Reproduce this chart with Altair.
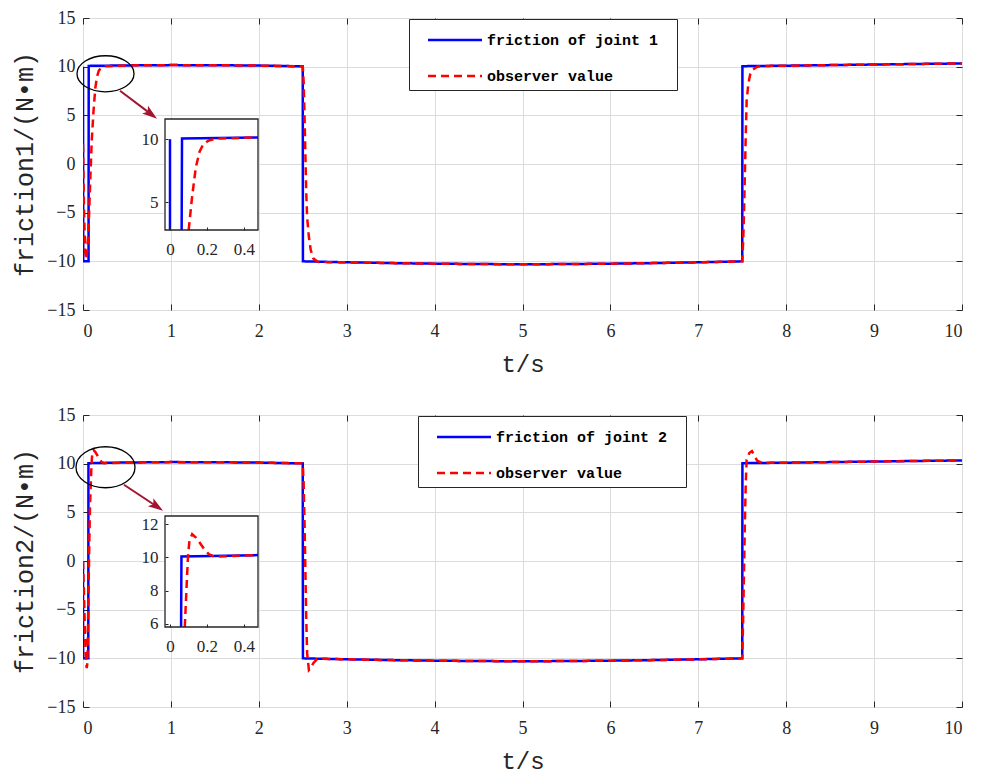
import altair as alt
import pandas as pd

OBS = "observer value"
SERIES_1 = "friction of joint 1"
SERIES_2 = "friction of joint 2"

X_TICKS = [0, 1, 2, 3, 4, 5, 6, 7, 8, 9, 10]
Y_TICKS = [-15, -10, -5, 0, 5, 10, 15]
INSET_X_TICKS = [0, 0.2, 0.4]
INSET1_Y_TICKS = [5, 10]
INSET2_Y_TICKS = [6, 8, 10, 12]

# ---------------- panel 1 ----------------
B1_T = [0.0, 0.003, 0.063, 0.065, 0.5, 1.0, 1.5, 2.0, 2.5, 2.502, 3.0, 3.5, 4.0, 4.5, 5.0,
        5.5, 6.0, 6.5, 7.0, 7.5, 7.502, 8.0, 8.5, 9.0, 9.5, 10.0]
B1_V = [10.0, -10.0, -10.0, 10.08, 10.13, 10.16, 10.15, 10.11, 10.03, -10.0, -10.1, -10.18, -10.24, -10.28, -10.3,
        -10.28, -10.24, -10.18, -10.1, -10.0, 10.05, 10.1, 10.16, 10.22, 10.28, 10.33]
R1_T = [0.0, 0.012, 0.025, 0.04, 0.055, 0.07, 0.085, 0.1, 0.12, 0.14, 0.16, 0.18, 0.21, 0.25, 0.5,
        1.0, 1.5, 2.0, 2.5, 2.51, 2.52, 2.53, 2.54, 2.55, 2.57, 2.59, 2.62, 2.67, 2.75, 3.0, 3.5,
        4.0, 4.5, 5.0, 5.5, 6.0, 6.5, 7.0, 7.5, 7.51, 7.52, 7.53, 7.54, 7.55, 7.57, 7.59, 7.62,
        7.67, 7.75, 8.0, 8.5, 9.0, 9.5, 10.0]
R1_V = [2.0, -5.0, -9.0, -9.8, -8.0, -5.0, -1.0, 2.5, 5.5, 7.8, 9.0, 9.6, 9.9, 10.05, 10.13,
        10.16, 10.15, 10.11, 10.03, 8.5, 5.0, 1.0, -3.0, -5.5, -7.5, -8.8, -9.7, -10.05, -10.08, -10.1, -10.18,
        -10.24, -10.28, -10.3, -10.28, -10.24, -10.18, -10.1, -10.0, -8.0, -5.0, -1.0, 3.0, 6.5, 8.3, 9.2, 9.7,
        10.0, 10.08, 10.1, 10.16, 10.22, 10.28, 10.33]
# inset 1 (values read inside the zoom window)
IB1_T = [0.0, 0.0, 0.063, 0.065, 0.476]
IB1_V = [2.8, 10.0, 2.8, 10.05, 10.14]
IB1_SEG = [0, 0, 1, 1, 1]
IR1_T = [0.101, 0.12, 0.14, 0.16, 0.18, 0.21, 0.25, 0.476]
IR1_V = [2.8, 5.5, 7.8, 9.0, 9.6, 9.9, 10.05, 10.14]
INSET1_Y_DOMAIN = [2.8, 11.6]

# ---------------- panel 2 ----------------
B2_T = [0.0, 0.002, 0.06, 0.062, 0.5, 1.0, 1.5, 2.0, 2.5, 2.502, 3.0, 3.5, 4.0, 4.5, 5.0,
        5.5, 6.0, 6.5, 7.0, 7.5, 7.502, 8.0, 8.5, 9.0, 9.5, 10.0]
B2_V = [0.0, -10.0, -10.0, 10.05, 10.12, 10.16, 10.15, 10.11, 10.03, -10.0, -10.1, -10.18, -10.24, -10.28, -10.3,
        -10.28, -10.24, -10.18, -10.1, -10.0, 10.05, 10.1, 10.16, 10.22, 10.28, 10.33]
R2_T = [0.0, 0.01, 0.02, 0.03, 0.042, 0.05, 0.058, 0.065, 0.072, 0.08, 0.09, 0.097, 0.105, 0.12, 0.14,
        0.16, 0.185, 0.21, 0.24, 0.5, 1.0, 1.5, 2.0, 2.5, 2.51, 2.52, 2.53, 2.54, 2.55, 2.57, 2.59,
        2.62, 2.66, 2.72, 3.0, 3.5, 4.0, 4.5, 5.0, 5.5, 6.0, 6.5, 7.0, 7.5, 7.51, 7.52, 7.53, 7.54,
        7.55, 7.58, 7.61, 7.64, 7.67, 7.72, 8.0, 8.5, 9.0, 9.5, 10.0]
R2_V = [0.0, -3.0, -6.5, -9.5, -11.0, -10.5, -6.0, -2.0, 2.0, 5.8, 8.3, 10.0, 11.0, 11.4, 11.2,
        10.9, 10.5, 10.2, 10.05, 10.12, 10.16, 10.15, 10.11, 10.03, 8.0, 4.0, -1.0, -6.0, -9.5, -11.2, -11.0,
        -10.5, -10.1, -10.05, -10.1, -10.18, -10.24, -10.28, -10.3, -10.28, -10.24, -10.18, -10.1, -10.0, -6.0, -1.0, 4.0, 8.0,
        10.4, 11.1, 11.3, 10.8, 10.3, 10.1, 10.1, 10.16, 10.22, 10.28, 10.33]
IB2_T = [0.06, 0.062, 0.476]
IB2_V = [5.8, 10.05, 10.14]
IB2_SEG = [0, 0, 0]
IR2_T = [0.08, 0.09, 0.097, 0.105, 0.12, 0.14, 0.16, 0.185, 0.21, 0.24, 0.476]
IR2_V = [5.8, 8.3, 10.0, 11.0, 11.4, 11.2, 10.9, 10.5, 10.2, 10.05, 10.14]
INSET2_Y_DOMAIN = [5.8, 12.5]

INSET_X_DOMAIN = [-0.027, 0.476]

# annotation anchors (data units of the main axes)
ELL1 = {"t": [0.256], "v": [9.27]}
ELL2 = {"t": [0.256], "v": [9.63]}
ARR1 = {"t0": [0.421], "v0": [7.53], "t1": [0.774], "v1": [5.12]}
ARR2 = {"t0": [0.466], "v0": [7.83], "t1": [0.84], "v1": [5.60]}

DARK = "#262626"
SERIF = "Liberation Serif"
MONO = "Liberation Mono"
W, H = 879, 292
ARROW_PATH = "M1,0 L-1,-0.65 L-0.55,0 L-1,0.65 Z"
LEGEND_SYMBOL = "M-2,0H2"


def panel(bt, bv, rt, rv, ibt, ibv, ibseg, irt, irv, iy_dom, iy_ticks, ylab, blue_name,
          ell, ell_ratio, ell_w, arr, arr_angle, legx):
    df = pd.DataFrame({
        "t": bt + rt,
        "v": bv + rv,
        "series": [blue_name] * len(bt) + [OBS] * len(rt),
        "i": list(range(len(bt))) + list(range(len(rt))),
    })
    xs = alt.Scale(domain=[0, 10], nice=False, zero=False)
    ys = alt.Scale(domain=[-15, 15], nice=False, zero=False)
    leg = alt.Legend(orient="none", legendX=legx, legendY=1, title="\u00a0", titleOrient="right",
                     titleFont=MONO, titleFontSize=15, titlePadding=13,
                     symbolType=LEGEND_SYMBOL, symbolSize=729, symbolStrokeWidth=2.5,
                     labelFont=MONO, labelFontWeight="bold", labelFontSize=15,
                     labelColor="black", strokeColor=DARK, fillColor="white",
                     padding=6, rowPadding=13, labelOffset=17, cornerRadius=0,
                     symbolOffset=25, labelLimit=0)
    x_axis = alt.Axis(values=X_TICKS, title="t/s", grid=True, gridColor="#dcdcdc",
                      domain=False, tickColor=DARK, tickSize={"expr": "-6"},
                      labelPadding=18, labelFont=SERIF, labelFontSize=18, labelColor=DARK,
                      titleFont=MONO, titleFontSize=24, titleFontWeight="normal",
                      titleColor=DARK, titlePadding=12, format="d")
    y_axis = alt.Axis(values=Y_TICKS, title=ylab, grid=True, gridColor="#dcdcdc",
                      domain=False, tickColor=DARK, tickSize={"expr": "-6"},
                      labelPadding=14, labelFont=SERIF, labelFontSize=18, labelColor=DARK,
                      titleFont=MONO, titleFontSize=25, titleFontWeight="normal",
                      titleColor=DARK, titlePadding=9, format="d")
    x_top = alt.Axis(orient="top", values=X_TICKS, labels=False, title=None, grid=False,
                     domain=False, tickColor=DARK, tickSize={"expr": "-6"})
    y_right = alt.Axis(orient="right", values=Y_TICKS, labels=False, title=None, grid=False,
                       domain=False, tickColor=DARK, tickSize={"expr": "-6"})

    def X(f, ax=None):
        return alt.X(f, scale=xs, axis=ax)

    def Y(f, ax=None):
        return alt.Y(f, scale=ys, axis=ax)

    lines = alt.Chart(df).mark_line(strokeWidth=2.5, clip=True).encode(
        x=X("t:Q", x_axis), y=Y("v:Q", y_axis),
        color=alt.Color("series:N", scale=alt.Scale(domain=[blue_name, OBS], range=["#0000ff", "#ff0000"]), legend=leg),
        strokeDash=alt.StrokeDash("series:N", scale=alt.Scale(domain=[blue_name, OBS], range=[[1, 0], [8, 5]]), legend=leg),
        order="i:Q",
    )
    frame_ticks = alt.Chart(df).mark_line(strokeOpacity=0).encode(
        x=X("t:Q", x_top), y=Y("v:Q", y_right))
    ellipse = alt.Chart(pd.DataFrame(ell)).mark_point(
        shape=f"M-1,0 A1,{ell_ratio} 0 1,0 1,0 A1,{ell_ratio} 0 1,0 -1,0 Z",
        size=ell_w * ell_w, filled=False, color="black", strokeWidth=1.3, opacity=1,
    ).encode(x=X("t:Q"), y=Y("v:Q"))
    arrow_line = alt.Chart(pd.DataFrame(arr)).mark_rule(color="#A2142F", strokeWidth=2).encode(
        x=X("t0:Q"), y=Y("v0:Q"), x2="t1:Q", y2="v1:Q")
    arrow_head = alt.Chart(pd.DataFrame(arr)).mark_point(
        shape=ARROW_PATH, size=225, filled=True, color="#A2142F", opacity=1, angle=arr_angle,
        strokeWidth=0).encode(x=X("t1:Q"), y=Y("v1:Q"))

    # ---------- inset ----------
    ixs = alt.Scale(domain=INSET_X_DOMAIN, range=[82, 175], nice=False, zero=False)
    iys = alt.Scale(domain=iy_dom, range=[212, 101], nice=False, zero=False)
    box = pd.DataFrame({"x0": [INSET_X_DOMAIN[0]], "x1": [INSET_X_DOMAIN[1]],
                        "y0": [iy_dom[0]], "y1": [iy_dom[1]]})
    ix_axis = alt.Axis(orient="bottom", offset=-(H - 212), values=INSET_X_TICKS, title=None, grid=False,
                       domain=False, tickColor=DARK, tickSize={"expr": "-3"}, labelPadding=14,
                       labelFont=SERIF, labelFontSize=17, labelColor=DARK, format=".1~f", zindex=1)
    iy_axis = alt.Axis(orient="left", offset=-82, values=iy_ticks, title=None, grid=False,
                       domain=False, tickColor=DARK, tickSize={"expr": "-3"}, labelPadding=10,
                       labelFont=SERIF, labelFontSize=17, labelColor=DARK, format=".1~f", zindex=1)
    bg = alt.Chart(box).mark_rect(fill="white").encode(
        x=alt.X("x0:Q", scale=ixs, axis=ix_axis), x2="x1:Q",
        y=alt.Y("y0:Q", scale=iys, axis=iy_axis), y2="y1:Q")
    ib = alt.Chart(pd.DataFrame({"t": ibt, "v": ibv, "seg": ibseg, "i": list(range(len(ibt)))})).mark_line(
        color="#0000ff", strokeWidth=2.5).encode(
        x=alt.X("t:Q", scale=ixs, axis=None), y=alt.Y("v:Q", scale=iys, axis=None),
        detail="seg:N", order="i:Q")
    ir = alt.Chart(pd.DataFrame({"t": irt, "v": irv, "i": list(range(len(irt)))})).mark_line(
        color="#ff0000", strokeWidth=2.5, strokeDash=[8, 5]).encode(
        x=alt.X("t:Q", scale=ixs, axis=None), y=alt.Y("v:Q", scale=iys, axis=None), order="i:Q")
    frame = alt.Chart(box).mark_rect(fill=None, fillOpacity=0, stroke=DARK, strokeWidth=1.3).encode(
        x=alt.X("x0:Q", scale=ixs, axis=None), x2="x1:Q",
        y=alt.Y("y0:Q", scale=iys, axis=None), y2="y1:Q")

    return alt.layer(lines, frame_ticks, ellipse, arrow_line, arrow_head, bg, ib, ir, frame).resolve_scale(
        x="independent", y="independent").resolve_axis(x="independent", y="independent").properties(
        width=W, height=H)


p1 = panel(B1_T, B1_V, R1_T, R1_V, IB1_T, IB1_V, IB1_SEG, IR1_T, IR1_V, INSET1_Y_DOMAIN,
           INSET1_Y_TICKS, "friction1/(N•m)", SERIES_1, ELL1, 0.632, 57, ARR1, 37, 326)
p2 = panel(B2_T, B2_V, R2_T, R2_V, IB2_T, IB2_V, IB2_SEG, IR2_T, IR2_V, INSET2_Y_DOMAIN,
           INSET2_Y_TICKS, "friction2/(N•m)", SERIES_2, ELL2, 0.695, 59, ARR2, 34, 335)

chart = alt.vconcat(p1, p2, spacing=28).resolve_scale(
    color="independent", strokeDash="independent").configure_view(
    stroke=DARK, strokeWidth=1.3).configure(background="white").properties(
    padding={"left": 4, "top": 0, "right": 0, "bottom": 0})

chart.save("out.html", embed_options={"renderer": "svg", "actions": False})
